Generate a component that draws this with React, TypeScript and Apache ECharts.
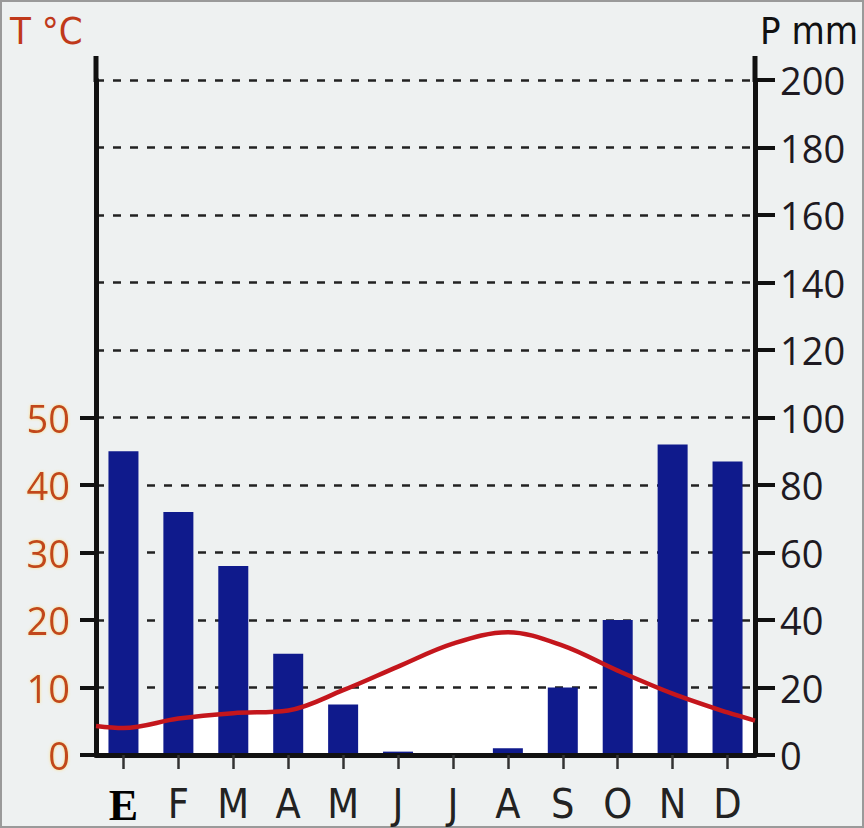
import React, { useEffect, useRef } from "react";
import * as echarts from "echarts";

// Months (Spanish initials)
const months = ["E", "F", "M", "A", "M", "J", "J", "A", "S", "O", "N", "D"];
// Precipitation, mm
const precipitation = [90, 72, 56, 30, 15, 1, 0, 2, 20, 40, 92, 87];
// Mean temperature, °C (at month centres)
const temperature = [4.0, 5.4, 6.2, 6.6, 9.6, 13.1, 16.5, 18.2, 16.2, 12.5, 9.1, 6.3];
// Temperature curve where it meets the left and right axes
const temperatureEdges = [4.3, 5.1];
// Tick labels
const tempTicks = [0, 10, 20, 30, 40, 50];
const precipTicks = [0, 20, 40, 60, 80, 100, 120, 140, 160, 180, 200];

const GRID_LEFT = 96;
const GRID_RIGHT = 109;
const GRID_TOP = 80;
const GRID_BOTTOM = 73;
const W = 864;
const H = 828;

export default function App() {
  const ref = useRef<HTMLDivElement>(null);

  useEffect(() => {
    if (!ref.current) return;
    const chart = echarts.init(ref.current, null, { renderer: "svg" });

    const tempLine: number[][] = [
      [0, temperatureEdges[0]],
      ...temperature.map((t, i) => [i + 0.5, t]),
      [months.length, temperatureEdges[1]],
    ];

    const orange = "#c2461c";
    const glow = {
      textShadowColor: "rgba(255,210,90,0.7)",
      textShadowBlur: 3,
    };
    const xRight = W - GRID_RIGHT;

    chart.setOption({
      animation: false,
      backgroundColor: "#eef1f1",
      grid: {
        left: GRID_LEFT,
        right: GRID_RIGHT,
        top: GRID_TOP,
        bottom: GRID_BOTTOM,
        containLabel: false,
      },
      xAxis: [
        {
          type: "category",
          data: months,
          boundaryGap: true,
          z: 3,
          axisLine: { show: true, lineStyle: { color: "#111", width: 5 } },
          axisTick: {
            show: true,
            alignWithLabel: true,
            length: 14,
            lineStyle: { color: "#333", width: 2.5 },
          },
          axisLabel: {
            margin: 28,
            fontSize: 41,
            fontFamily: "'Liberation Sans Narrow', 'DejaVu Sans Condensed', 'Open Sans', sans-serif",
            color: "#222",
            interval: 0,
            formatter: (v: string, i: number) => (i === 0 ? "{e|" + v + "}" : v),
            rich: {
              e: {
                fontFamily: "'Liberation Serif', 'DejaVu Serif', serif",
                fontWeight: "bold",
                fontSize: 44,
                color: "#000",
              },
            },
          },
          splitLine: { show: false },
        },
        {
          type: "value",
          min: 0,
          max: months.length,
          show: false,
        },
      ],
      yAxis: [
        {
          type: "value",
          position: "left",
          min: 0,
          max: 100,
          interval: 10,
          z: 1,
          axisLine: { show: true, lineStyle: { color: "#111", width: 5 } },
          axisTick: {
            show: true,
            customValues: tempTicks,
            length: 16,
            lineStyle: { color: "#111", width: 4 },
          },
          axisLabel: {
            customValues: tempTicks,
            margin: 26,
            fontSize: 38,
            fontFamily: "'Open Sans', sans-serif",
            color: orange,
            ...glow,
          },
          splitLine: { show: false },
        },
        {
          type: "value",
          position: "right",
          min: 0,
          max: 200,
          interval: 20,
          z: 1,
          axisLine: { show: true, lineStyle: { color: "#111", width: 5 } },
          axisTick: {
            show: true,
            length: 20,
            lineStyle: { color: "#111", width: 4 },
          },
          axisLabel: {
            margin: 25,
            fontSize: 38,
            fontFamily: "'Open Sans', sans-serif",
            color: "#1e1a22",
          },
          splitLine: {
            show: true,
            lineStyle: { color: "#222", width: 2.5, type: [8, 9] },
          },
        },
      ],
      graphic: [
        {
          type: "line",
          silent: true,
          shape: { x1: GRID_LEFT, y1: 56, x2: GRID_LEFT, y2: GRID_TOP + 2 },
          style: { stroke: "#111", lineWidth: 5 },
        },
        {
          type: "line",
          silent: true,
          shape: { x1: xRight, y1: 56, x2: xRight, y2: GRID_TOP + 2 },
          style: { stroke: "#111", lineWidth: 5 },
        },
        {
          type: "text",
          silent: true,
          left: 10,
          top: 12,
          style: {
            text: "T °C",
            fontSize: 38,
            fontFamily: "'Liberation Sans Narrow', 'DejaVu Sans Condensed', sans-serif",
            fill: "#c0391b",
          },
        },
        {
          type: "text",
          silent: true,
          right: 6,
          top: 12,
          style: {
            text: "P mm",
            fontSize: 38,
            fontFamily: "'Liberation Sans Narrow', 'DejaVu Sans Condensed', sans-serif",
            fill: "#111",
          },
        },
        {
          type: "rect",
          silent: true,
          shape: { x: 1, y: 1, width: W - 2, height: H - 2 },
          style: { fill: "none", stroke: "#9a9a9a", lineWidth: 2 },
        },
      ],
      series: [
        {
          name: "area",
          type: "line",
          xAxisIndex: 1,
          yAxisIndex: 0,
          data: tempLine,
          smooth: 0.35,
          symbol: "none",
          z: 0,
          lineStyle: { width: 0 },
          areaStyle: { color: "#ffffff", opacity: 1 },
          silent: true,
        },
        {
          name: "P",
          type: "bar",
          xAxisIndex: 0,
          yAxisIndex: 1,
          data: precipitation,
          barWidth: 30,
          z: 2,
          itemStyle: { color: "#0f1a8c" },
        },
        {
          name: "T",
          type: "line",
          xAxisIndex: 1,
          yAxisIndex: 0,
          data: tempLine,
          smooth: 0.35,
          symbol: "none",
          z: 4,
          lineStyle: { color: "#c4161c", width: 4.5 },
        },
      ],
    });

    return () => chart.dispose();
  }, []);

  return (
    <div
      ref={ref}
      style={{ position: "absolute", left: 0, top: 0, width: W, height: H }}
    />
  );
}
